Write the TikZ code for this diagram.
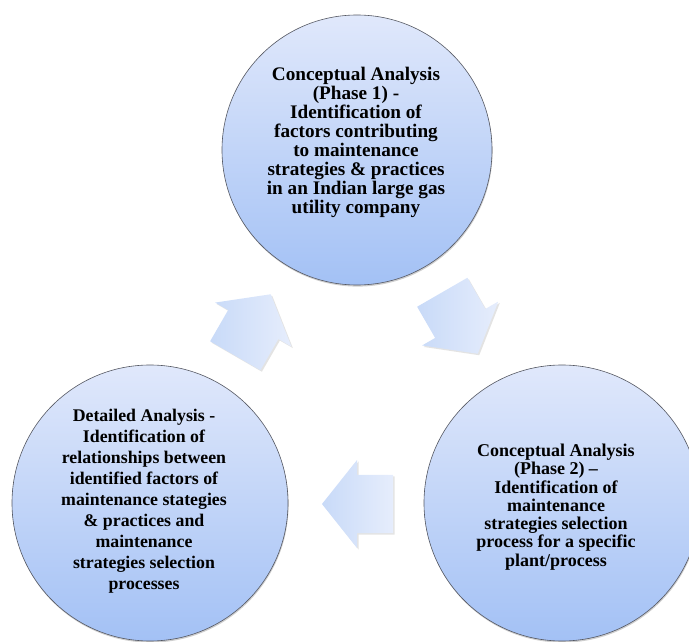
\documentclass[tikz,border=0pt]{standalone}
\usepackage{fontspec}
\setmainfont{Liberation Serif}
\usetikzlibrary{shadows}

\definecolor{circtop}{RGB}{224,232,251}
\definecolor{circbot}{RGB}{163,193,245}
\definecolor{arrlight}{RGB}{230,237,252}
\definecolor{arrdark}{RGB}{200,218,248}
\definecolor{rim}{RGB}{85,88,98}

\tikzset{
  stage/.style={circle, draw=rim, line width=0.6pt, inner sep=0pt,
    top color=circtop, bottom color=circbot, minimum size=#1,
    drop shadow={shadow xshift=0.6pt, shadow yshift=-1.6pt, opacity=0.35, fill=black!55}},
  stagetext/.style={align=center, inner sep=0pt, text=black},
  arrowbody/.style={left color=arrdark, right color=arrlight, draw=none,
    drop shadow={shadow xshift=1.5pt, shadow yshift=-1.5pt, opacity=0.18, fill=black!60}},
  pics/cyclearrow/.style={code={
    \path[arrowbody] (-35.5,29) -- (0.5,29) -- (0.5,44) -- (35.5,0)
      -- (0.5,-44) -- (0.5,-29) -- (-35.5,-29) -- cycle;
  }}
}

\begin{document}
\begin{tikzpicture}[x=1pt,y=1pt]
  \useasboundingbox (0,0) rectangle (689,641);

  % three stages of the study
  \node[stage=270pt] (c1) at (357,491) {};
  \node[stage=276pt] (c2) at (562,138) {};
  \node[stage=276pt] (c3) at (150,138) {};

  % cycle arrows between the stages
  \pic[rotate=-60] (a12) at (460,318) {cyclearrow};
  \pic[rotate=180] (a23) at (357.5,137) {cyclearrow};
  \pic[rotate=60]  (a31) at (253,316) {cyclearrow};

  % stage descriptions
  \node[stagetext, font=\fontsize{19.2}{19}\selectfont\bfseries] (t1) at (356,499)
    {Conceptual Analysis\\(Phase 1) -\\Identification of\\factors contributing\\to maintenance\\strategies \& practices\\in an Indian large gas\\utility company};
  \node[stagetext, font=\fontsize{18}{18.3}\selectfont\bfseries] (t2) at (556,134)
    {Conceptual Analysis\\(Phase 2) --\\Identification of\\maintenance\\strategies selection\\process for a specific\\plant/process};
  \node[stagetext, font=\fontsize{17.8}{21}\selectfont\bfseries] (t3) at (144,140)
    {Detailed Analysis -\\Identification of\\relationships between\\identified factors of\\maintenance stategies\\\& practices and\\maintenance\\strategies selection\\processes};
\end{tikzpicture}
\end{document}
